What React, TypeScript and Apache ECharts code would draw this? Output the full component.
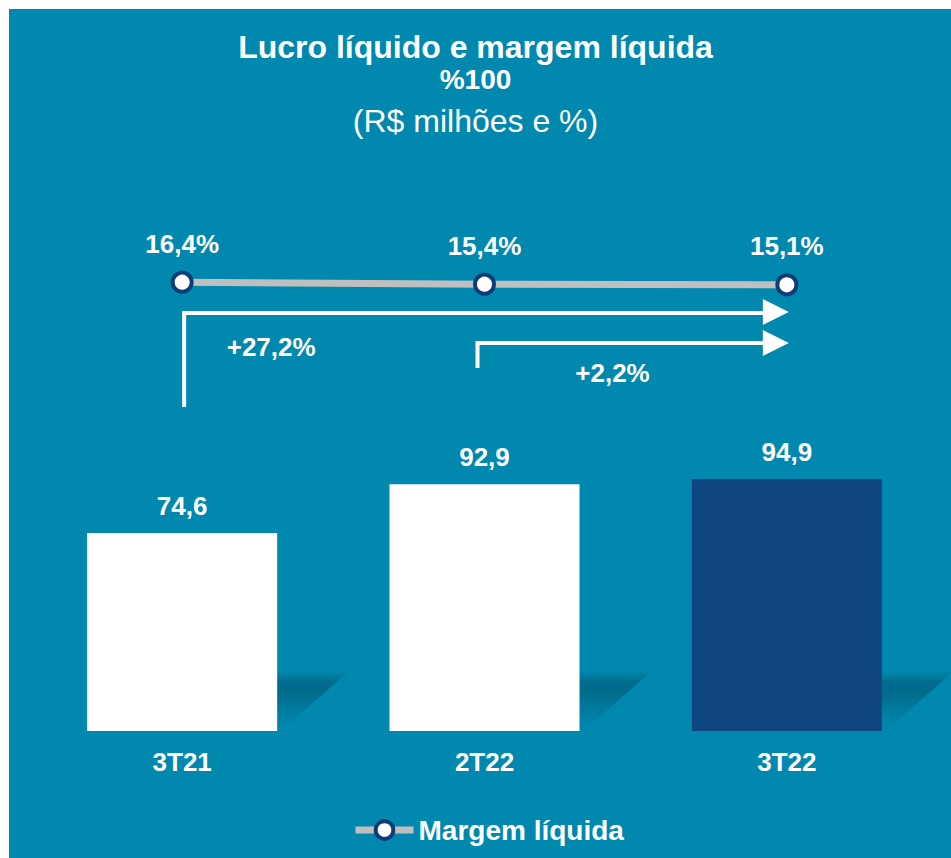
import React, { useEffect, useRef } from "react";
import * as echarts from "echarts";

const categories = ["3T21", "2T22", "3T22"];
const lucroLiquido = [74.6, 92.9, 94.9];
const margemLiquida = [16.4, 15.4, 15.1];
const variationLabels = ["+27,2%", "+2,2%"];
const titleLines = ["Lucro líquido e margem líquida", "%100", "(R$ milhões e %)"];
const barColors = ["#FFFFFF", "#FFFFFF", "#0F4580"];

const BG = "#0088AE";
const FONT = "'Liberation Sans', Arial, Helvetica, sans-serif";
const fmt = (v: number) => v.toFixed(1).replace(".", ",");

export default function App() {
  const ref = useRef<HTMLDivElement>(null);
  useEffect(() => {
    document.body.style.margin = "0";
    const chart = echarts.init(ref.current!, undefined, { renderer: "svg" });
    const option: any = {
      animation: false,
      backgroundColor: "#FFFFFF",
      textStyle: { fontFamily: FONT },
      title: [
        {
          text: titleLines[0],
          left: "center",
          top: 26,
          padding: [5, 5, 0, 5],
          textStyle: { color: "#fff", fontSize: 32, fontWeight: "bold", fontFamily: FONT },
        },
        {
          text: titleLines[1],
          left: "center",
          top: 60,
          padding: [5, 5, 0, 5],
          textStyle: { color: "#fff", fontSize: 28, fontWeight: "bold", fontFamily: FONT },
        },
        {
          text: titleLines[2],
          left: "center",
          top: 100,
          padding: [5, 5, 0, 5],
          textStyle: { color: "#fff", fontSize: 32, fontWeight: "normal", fontFamily: FONT },
        },
      ],
      legend: {
        data: ["Margem líquida"],
        left: 347,
        top: 811,
        itemWidth: 58,
        itemHeight: 22,
        itemGap: 5,
        lineStyle: { color: "#BFBFBF", width: 7 },
        itemStyle: { color: "#FFFFFF", borderColor: "#0D3D78", borderWidth: 4 },
        textStyle: { color: "#fff", fontSize: 28, fontWeight: "bold", fontFamily: FONT },
      },
      grid: [
        { left: 31, right: 13, top: 200, bottom: 127 },
        { left: 31, right: 13, top: 275, height: 20 },
      ],
      xAxis: [
        {
          type: "category",
          gridIndex: 0,
          data: categories,
          axisLine: { show: false },
          axisTick: { show: false },
          axisLabel: {
            color: "#fff",
            fontSize: 26,
            fontWeight: "bold",
            margin: 18,
            fontFamily: FONT,
          },
        },
        {
          type: "category",
          gridIndex: 1,
          data: categories,
          show: false,
        },
      ],
      yAxis: [
        { type: "value", gridIndex: 0, min: 0, max: 200, show: false },
        { type: "value", gridIndex: 1, min: 10, max: 20, show: false },
      ],
      series: [
        {
          type: "custom",
          xAxisIndex: 0,
          yAxisIndex: 0,
          silent: true,
          z: 1,
          data: lucroLiquido.map((v, i) => [i, v]),
          renderItem: (params: any, api: any) => {
            const p = api.coord([api.value(0), 0]);
            const r = p[0] + 95;
            const y0 = p[1];
            return {
              type: "polygon",
              shape: {
                points: [
                  [r, y0 - 60],
                  [r + 72, y0 - 60],
                  [r + 4, y0],
                  [r, y0],
                ],
              },
              style: {
                fill: {
                  type: "linear",
                  x: 0,
                  y: 0,
                  x2: 0,
                  y2: 1,
                  colorStops: [
                    { offset: 0, color: "rgba(0,95,125,0)" },
                    { offset: 0.18, color: "rgba(0,92,122,0.6)" },
                    { offset: 0.35, color: "rgba(0,95,125,0.7)" },
                    { offset: 0.7, color: "rgba(0,105,140,0.35)" },
                    { offset: 1, color: "rgba(0,125,165,0.05)" },
                  ],
                },
              },
            };
          },
        },
        {
          name: "Lucro líquido",
          type: "bar",
          xAxisIndex: 0,
          yAxisIndex: 0,
          barWidth: 190,
          z: 2,
          data: lucroLiquido.map((v, i) => ({ value: v, itemStyle: { color: barColors[i] } })),
          label: {
            show: true,
            position: "top",
            distance: 14,
            color: "#fff",
            fontSize: 26,
            fontWeight: "bold",
            fontFamily: FONT,
            formatter: (p: any) => fmt(p.value),
          },
        },
        {
          name: "Margem líquida",
          type: "line",
          xAxisIndex: 1,
          yAxisIndex: 1,
          data: margemLiquida,
          symbol: "circle",
          symbolSize: 19,
          z: 5,
          lineStyle: { color: "#BFBFBF", width: 7 },
          itemStyle: { color: "#FFFFFF", borderColor: "#0D3D78", borderWidth: 4 },
          label: {
            show: true,
            position: "top",
            distance: 14,
            color: "#fff",
            fontSize: 26,
            fontWeight: "bold",
            fontFamily: FONT,
            formatter: (p: any) => fmt(p.value) + "%",
          },
        },
      ],
    };
    chart.setOption(option);

    const px = (i: number) => chart.convertToPixel({ xAxisIndex: 0 }, i) as number;
    const x0 = px(0);
    const x1 = px(1);
    const x2 = px(2);
    const white = { stroke: "#fff", lineWidth: 4, fill: "none" };
    chart.setOption({
      graphic: [
        {
          type: "rect",
          z: -10,
          silent: true,
          shape: { x: 9, y: 9, width: 942, height: 849 },
          style: { fill: BG },
        },
        {
          type: "polyline",
          shape: { points: [[x0 + 2, 407], [x0 + 2, 313], [x2 - 22, 313]] },
          style: white,
        },
        {
          type: "polygon",
          shape: { points: [[x2 - 24, 299], [x2 + 2, 312], [x2 - 24, 325]] },
          style: { fill: "#fff" },
        },
        {
          type: "polyline",
          shape: { points: [[x1 - 7, 368], [x1 - 7, 343], [x2 - 22, 343]] },
          style: white,
        },
        {
          type: "polygon",
          shape: { points: [[x2 - 24, 330], [x2 + 2, 343], [x2 - 24, 356]] },
          style: { fill: "#fff" },
        },
        {
          type: "text",
          x: x0 + 89,
          y: 347,
          style: {
            text: variationLabels[0],
            fill: "#fff",
            fontSize: 26,
            fontWeight: "bold",
            fontFamily: FONT,
            align: "center",
            verticalAlign: "middle",
          },
        },
        {
          type: "text",
          x: x1 + 128,
          y: 373,
          style: {
            text: variationLabels[1],
            fill: "#fff",
            fontSize: 26,
            fontWeight: "bold",
            fontFamily: FONT,
            align: "center",
            verticalAlign: "middle",
          },
        },
      ],
    });
    return () => chart.dispose();
  }, []);
  return <div ref={ref} style={{ width: 951, height: 858 }} />;
}
